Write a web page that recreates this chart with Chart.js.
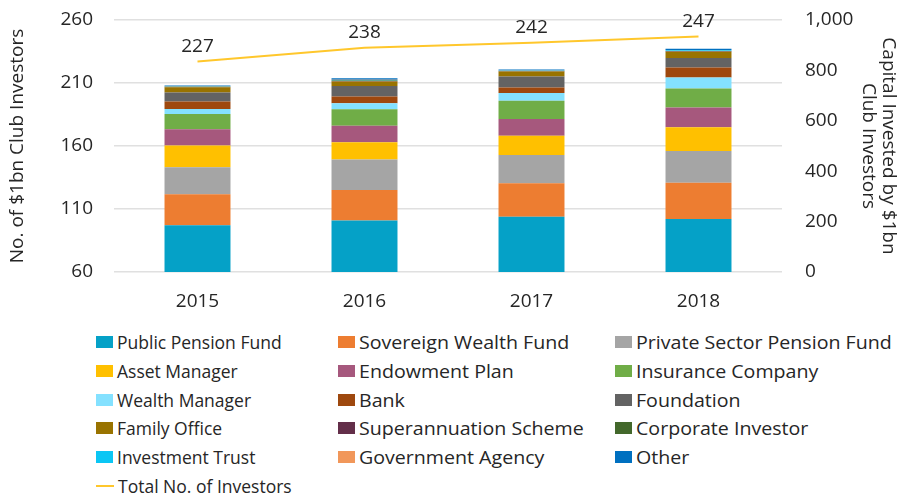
<!DOCTYPE html>
<html>
<head>
<meta charset="utf-8" />
<script src="https://cdn.jsdelivr.net/npm/chart.js"></script>
<style>
  body { margin: 0; background: #fff; font-family: "Open Sans", sans-serif; color: #262626; }
  #wrap { position: relative; width: 922px; height: 495px; }
  #legend { position: absolute; left: 96px; top: 328px; display: grid;
    grid-template-columns: 242px 277px 259px; grid-auto-rows: 28.7px; font-size: 17.5px; }
  .item { display: flex; align-items: center; white-space: nowrap; }
  .box { width: 17px; height: 12px; margin-right: 4px; flex: none; }
  .line { width: 18px; height: 2px; margin-right: 4px; flex: none; }
  .wide { display: inline-block; transform: scaleX(1.12); transform-origin: left center; }
</style>
</head>
<body>
<div id="wrap">
  <canvas id="chart" width="922" height="322"></canvas>
  <div id="legend"></div>
</div>
<script>
const years = ["2015", "2016", "2017", "2018"];
const totalInvestors = [227, 238, 242, 247];

// capital invested ($bn) by investor type, right axis
const publicPension = [186, 204, 219, 210];
const sovereignWealth = [123, 121, 133, 144];
const privateSectorPension = [107, 121, 112, 126];
const assetManager = [86, 69, 77, 94];
const endowmentPlan = [64, 65, 66, 79];
const insuranceCompany = [61, 66, 73, 75];
const wealthManager = [20, 24, 30, 44];
const bank = [30, 26, 22, 40];
const foundation = [35, 42, 44, 37];
const familyOffice = [21, 18, 20, 25];
const superannuation = [1, 2, 1, 2];
const corporateInvestor = [1, 2, 1, 1];
const investmentTrust = [1, 2, 1, 3];
const governmentAgency = [1, 1, 1, 1];
const other = [3, 6, 4, 5];

const barSeries = [
  ["Public Pension Fund", publicPension, "#05A1C7"],
  ["Sovereign Wealth Fund", sovereignWealth, "#ED7D31"],
  ["Private Sector Pension Fund", privateSectorPension, "#A5A5A5"],
  ["Asset Manager", assetManager, "#FFC000"],
  ["Endowment Plan", endowmentPlan, "#A6587D"],
  ["Insurance Company", insuranceCompany, "#70AD47"],
  ["Wealth Manager", wealthManager, "#84E1FF"],
  ["Bank", bank, "#9E480E"],
  ["Foundation", foundation, "#636363"],
  ["Family Office", familyOffice, "#997300"],
  ["Superannuation Scheme", superannuation, "#632E49"],
  ["Corporate Investor", corporateInvestor, "#43682B"],
  ["Investment Trust", investmentTrust, "#0BC6F4"],
  ["Government Agency", governmentAgency, "#F1975A"],
  ["Other", other, "#0070C0"],
];
const lineColor = "#FFC72C";

const FONT = "'Open Sans', sans-serif";
const TXT = "#262626";

const lineLabels = {
  id: "lineLabels",
  afterDatasetsDraw(chart) {
    const ctx = chart.ctx;
    const idx = chart.data.datasets.length - 1;
    const meta = chart.getDatasetMeta(idx);
    ctx.save();
    ctx.font = "19px " + FONT;
    ctx.fillStyle = TXT;
    ctx.textAlign = "center";
    ctx.textBaseline = "middle";
    meta.data.forEach((pt, i) => {
      ctx.fillText(String(totalInvestors[i]), pt.x, pt.y - 15);
    });
    ctx.restore();
  }
};

const datasets = barSeries.map(([label, data, color]) => ({
  type: "bar",
  label, data,
  backgroundColor: color,
  yAxisID: "y1",
  stack: "s",
  barPercentage: 0.79,
  categoryPercentage: 0.5,
  order: 2,
}));
datasets.push({
  type: "line",
  label: "Total No. of Investors",
  data: totalInvestors,
  borderColor: lineColor,
  borderWidth: 2,
  pointRadius: 0,
  yAxisID: "y",
  order: 1,
});

// fixed axis box sizes so the plot sits where the original does
const fitSide = (w) => (s) => { s.width = w; s.paddingTop = 0; s.paddingBottom = 0; };

new Chart(document.getElementById("chart"), {
  data: { labels: years, datasets },
  options: {
    responsive: false,
    animation: false,
    layout: { padding: { top: 20, left: 0, right: 0, bottom: 0 } },
    plugins: { legend: { display: false }, tooltip: { enabled: false } },
    scales: {
      x: {
        stacked: true,
        afterFit: (s) => { s.height = 50; },
        grid: { display: false },
        border: { display: false },
        ticks: { color: TXT, font: { family: FONT, size: 19 }, padding: 10 },
      },
      y: {
        position: "left",
        min: 60, max: 260,
        afterFit: fitSide(114),
        ticks: { stepSize: 50, color: TXT, font: { family: FONT, size: 19 }, padding: 21 },
        grid: { color: "#E0E0E0", lineWidth: 1.5, drawTicks: false },
        border: { display: false },
        title: { display: true, text: "No. of $1bn Club Investors", color: TXT,
          font: { family: FONT, size: 19, lineHeight: 1.05 }, padding: { top: 8, bottom: 0 } },
      },
      y1: {
        position: "right",
        stacked: true,
        min: 0, max: 1000,
        afterFit: fitSide(140),
        ticks: { stepSize: 200, color: TXT, font: { family: FONT, size: 19 }, padding: 23 },
        grid: { display: false, drawTicks: false },
        border: { display: false },
        title: { display: true, text: ["Capital Invested by $1bn", "Club Investors"], color: TXT,
          font: { family: FONT, size: 19, lineHeight: 1.05 }, padding: { top: 24, bottom: 0 } },
      },
    },
  },
  plugins: [lineLabels],
});

// legend, three columns like the original
const legend = document.getElementById("legend");
const addItem = (marker, label, col) => {
  const d = document.createElement("div");
  d.className = "item";
  const cls = col > 0 ? "wide" : "";
  d.innerHTML = `${marker}<span class="${cls}">${label}</span>`;
  legend.appendChild(d);
};
barSeries.forEach(([label, , color], i) => {
  addItem(`<span class="box" style="background:${color}"></span>`, label, i % 3);
});
addItem(`<span class="line" style="background:${lineColor}"></span>`, "Total No. of Investors", 0);
</script>
</body>
</html>
